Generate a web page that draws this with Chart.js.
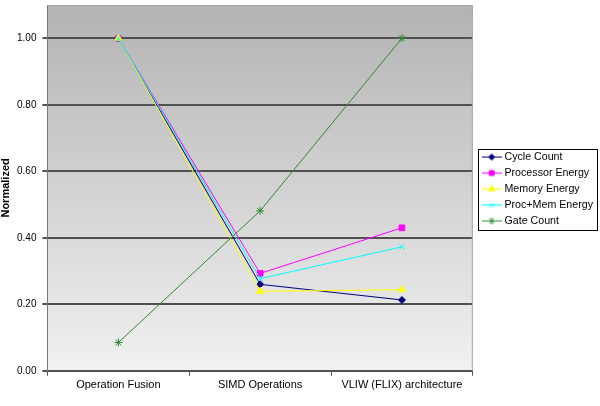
<!DOCTYPE html>
<html><head><meta charset="utf-8">
<script src="https://cdn.jsdelivr.net/npm/chart.js@4"></script>
<style>html,body{margin:0;padding:0;background:#fff}#wrap{width:600px;height:406px}</style>
</head><body><div id="wrap"><canvas id="c" width="600" height="406"></canvas></div>
<script>
const categories = ["Operation Fusion", "SIMD Operations", "VLIW (FLIX) architecture"];
const cycleCount = [1.00, 0.260, 0.213];
const processorEnergy = [1.00, 0.293, 0.430];
const memoryEnergy = [1.00, 0.239, 0.244];
const procMemEnergy = [1.00, 0.277, 0.373];
const gateCount = [0.085, 0.481, 1.00];
const yTicks = [0, 0.2, 0.4, 0.6, 0.8, 1.0];

const seriesDefs = [
  {label: "Cycle Count", data: cycleCount, color: "#000080", style: "rectRot", r: 3.5},
  {label: "Processor Energy", data: processorEnergy, color: "#FF00FF", style: "rect", r: 4},
  {label: "Memory Energy", data: memoryEnergy, color: "#FFFF00", style: "triangle", r: 4},
  {label: "Proc+Mem Energy", data: procMemEnergy, color: "#00FFFF", style: "crossRot", r: 4},
  {label: "Gate Count", data: gateCount, color: "#2E8B2E", style: "star", r: 4}
];

function legendIcon(color, style, r) {
  const cv = document.createElement('canvas');
  cv.width = 20; cv.height = 11;
  const ctx = cv.getContext('2d');
  ctx.strokeStyle = color; ctx.lineWidth = 1;
  ctx.beginPath(); ctx.moveTo(0, 5.5); ctx.lineTo(20, 5.5); ctx.stroke();
  ctx.fillStyle = color;
  Chart.helpers.drawPoint(ctx, {pointStyle: style, radius: r - 0.5, borderWidth: 1, rotation: 0}, 10, 5.5);
  ctx.fill();
  return cv;
}

const bgPlugin = {
  id: 'bg',
  afterLayout(chart) {
    const lg = chart.legend;
    if (!lg) return;
    const dy = 189 - (lg.top + lg.bottom) / 2;
    lg.top += dy; lg.bottom += dy;
    lg.left = chart.chartArea.right + 6;
  },
  beforeDraw(chart) {
    const {ctx, chartArea: a} = chart;
    const g = ctx.createLinearGradient(0, a.top, 0, a.bottom);
    g.addColorStop(0, '#b3b3b3');
    g.addColorStop(1, '#f1f1f1');
    ctx.save();
    ctx.fillStyle = g;
    ctx.fillRect(a.left, a.top, a.right - a.left, a.bottom - a.top);
    ctx.restore();
  },
  afterDraw(chart) {
    const {ctx, chartArea: a} = chart;
    ctx.save();
    ctx.strokeStyle = '#a8a8a8'; ctx.lineWidth = 1;
    ctx.beginPath();
    ctx.moveTo(a.left, a.top + 0.5); ctx.lineTo(a.right - 0.5, a.top + 0.5); ctx.lineTo(a.right - 0.5, a.bottom);
    ctx.stroke();
    const hb = chart.legend.legendHitBoxes;
    if (hb && hb.length) {
      const l = a.right + 5;
      const t = Math.min(...hb.map(h => h.top)) - 3;
      const r = chart.width - 3;
      const b = Math.max(...hb.map(h => h.top + h.height)) + 3;
      ctx.strokeStyle = '#000';
      ctx.strokeRect(Math.round(l) + 0.5, Math.round(t) + 0.5, Math.round(r - l), Math.round(b - t));
    }
    ctx.restore();
  }
};

new Chart(document.getElementById('c'), {
  type: 'line',
  data: {
    labels: categories,
    datasets: seriesDefs.map((s, i) => ({
      label: s.label, data: s.data, order: seriesDefs.length - i,
      borderColor: s.color, backgroundColor: s.color,
      borderWidth: 1, pointStyle: s.style, pointRadius: s.r,
      pointBorderColor: s.color, pointBackgroundColor: s.color, pointBorderWidth: 1,
      tension: 0, fill: false
    }))
  },
  options: {
    responsive: false, animation: false,
    layout: {padding: {top: 5, right: 3, left: 0, bottom: 11}},
    plugins: {
      tooltip: {enabled: false},
      legend: {
        position: 'right',
        labels: {
          font: {family: 'Liberation Sans, Arial', size: 10.67}, color: '#000',
          usePointStyle: true, pointStyleWidth: 15, padding: 5.3,
          generateLabels(chart) {
            return seriesDefs.map((s, i) => ({
              text: s.label, pointStyle: legendIcon(s.color, s.style, s.r),
              fillStyle: s.color, strokeStyle: s.color, lineWidth: 0, hidden: false, datasetIndex: i
            }));
          }
        }
      }
    },
    scales: {
      x: {
        offset: true,
        grid: {offset: true, drawOnChartArea: false, color: '#555', tickLength: 5},
        border: {color: '#505050', width: 2},
        ticks: {font: {family: 'Liberation Sans, Arial', size: 11}, color: '#000', maxRotation: 0, padding: 3}
      },
      y: {
        min: 0, max: 1.1,
        afterBuildTicks(scale) { scale.ticks = yTicks.map(v => ({value: v})); },
        afterFit(scale) { scale.paddingTop = 0; },
        grid: {color: '#505050', lineWidth: 2, tickLength: 5},
        border: {color: '#777', width: 1},
        ticks: {font: {family: 'Liberation Sans, Arial', size: 10}, color: '#000', padding: 6,
          callback: v => Number(v).toFixed(2)},
        title: {display: true, text: 'Normalized', font: {family: 'Liberation Sans, Arial', size: 11, weight: 'bold', lineHeight: 1}, color: '#000', padding: {top: 0, bottom: 0}}
      }
    }
  },
  plugins: [bgPlugin]
});
</script>
</body></html>
